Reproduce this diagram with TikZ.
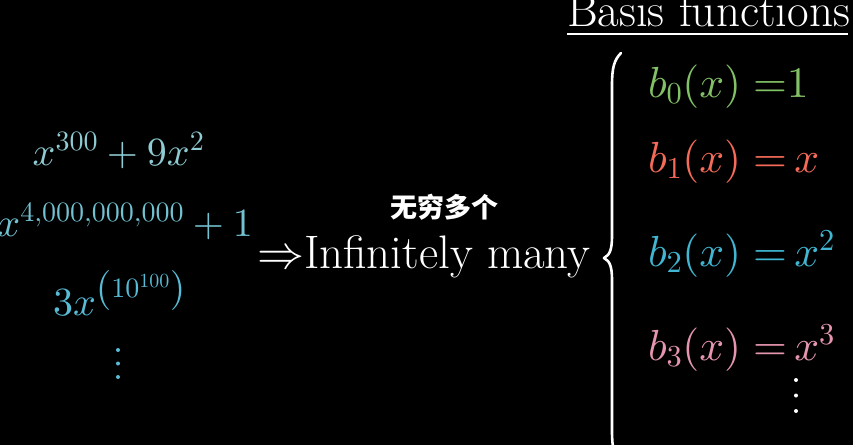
\documentclass[tikz,border=0pt]{standalone}
\usepackage{fontspec}
\DeclareFontShape{OML}{cmm}{m}{it}{<-6>cmmi5<6-8.5>cmmi7<8.5->cmmi10}{}
\DeclareFontShape{OT1}{cmr}{m}{n}{<-6>cmr5<6-8.5>cmr7<8.5->cmr10}{}
\DeclareFontShape{OMS}{cmsy}{m}{n}{<-6>cmsy5<6-8.5>cmsy7<8.5->cmsy10}{}
\DeclareFontShape{OMX}{cmex}{m}{n}{<->cmex10}{}
\newfontfamily\cjk{Noto Sans CJK SC}
\definecolor{tealA}{HTML}{8FCBD2}
\definecolor{tealB}{HTML}{72C2D2}
\definecolor{tealC}{HTML}{58BCD6}
\definecolor{bgreen}{HTML}{83C167}
\definecolor{bred}{HTML}{F56A58}
\definecolor{bblue}{HTML}{40B6D2}
\definecolor{bpink}{HTML}{E596AE}
\begin{document}
\begin{tikzpicture}[x=1pt,y=-1pt,
  txt/.style={inner sep=0pt,outer sep=0pt,anchor=base west},
  big/.style={font=\fontsize{47}{54}\selectfont},
  eqn/.style={font=\fontsize{43.5}{50}\selectfont},
  small/.style={font=\fontsize{40}{46}\selectfont},
  dotmark/.style={fill,circle,inner sep=0pt,minimum size=4pt}]
\fill[black] (0,0) rectangle (853,445);
\useasboundingbox (0,0) rectangle (853,445);
% left polynomials
\node[txt,small,anchor=base,text=tealA] (p1) at (118.5,165) {$x^{300}+9x^2$};
\node[txt,small,anchor=base east,text=tealB] (p2) at (253,236) {$x^{4{,}000{,}000{,}000}+1$};
\node[txt,small,anchor=base,text=tealC] (p3) at (119.5,315) {$3x^{\left(10^{100}\right)}$};
\node[dotmark,fill=tealC] (ld1) at (118,350) {};
\node[dotmark,fill=tealC] (ld2) at (118,363.5) {};
\node[dotmark,fill=tealC] (ld3) at (118,377) {};
% middle
\node[txt,big,text=white] (inf) at (257,268) {$\Rightarrow$Infinitely many};
\node[inner sep=0pt,text=white,font=\cjk\bfseries\fontsize{27}{32}\selectfont] (cn) at (444,207) {无穷多个};
% brace
\draw[white,line width=2.6pt,line cap=round,line join=round]
  (621,53) .. controls (614,60) and (612,68) .. (612,85) -- (612,236)
  .. controls (612,249) and (610,255) .. (604,258)
  .. controls (610,261) and (612,267) .. (612,280) -- (612,431)
  .. controls (612,448) and (614,456) .. (621,463);
% title
\node[txt,big,text=white] (title) at (567,26) {Basis functions};
\draw[white,line width=2pt] (567,33.5) -- (848,33.5);
% basis functions
\node[txt,eqn,text=bgreen] (b0) at (648,97) {$b_0(x)\;{=}1$};
\node[txt,eqn,text=bred] (b1) at (648,172) {$b_1(x)\;{=}\,x$};
\node[txt,eqn,text=bblue] (b2) at (648,266) {$b_2(x)\;{=}\,x^2$};
\node[txt,eqn,text=bpink] (b3) at (648,360) {$b_3(x)\;{=}\,x^3$};
\node[dotmark,fill=white] (rd1) at (796,380) {};
\node[dotmark,fill=white] (rd2) at (796,395.5) {};
\node[dotmark,fill=white] (rd3) at (796,411) {};
\end{tikzpicture}
\end{document}
